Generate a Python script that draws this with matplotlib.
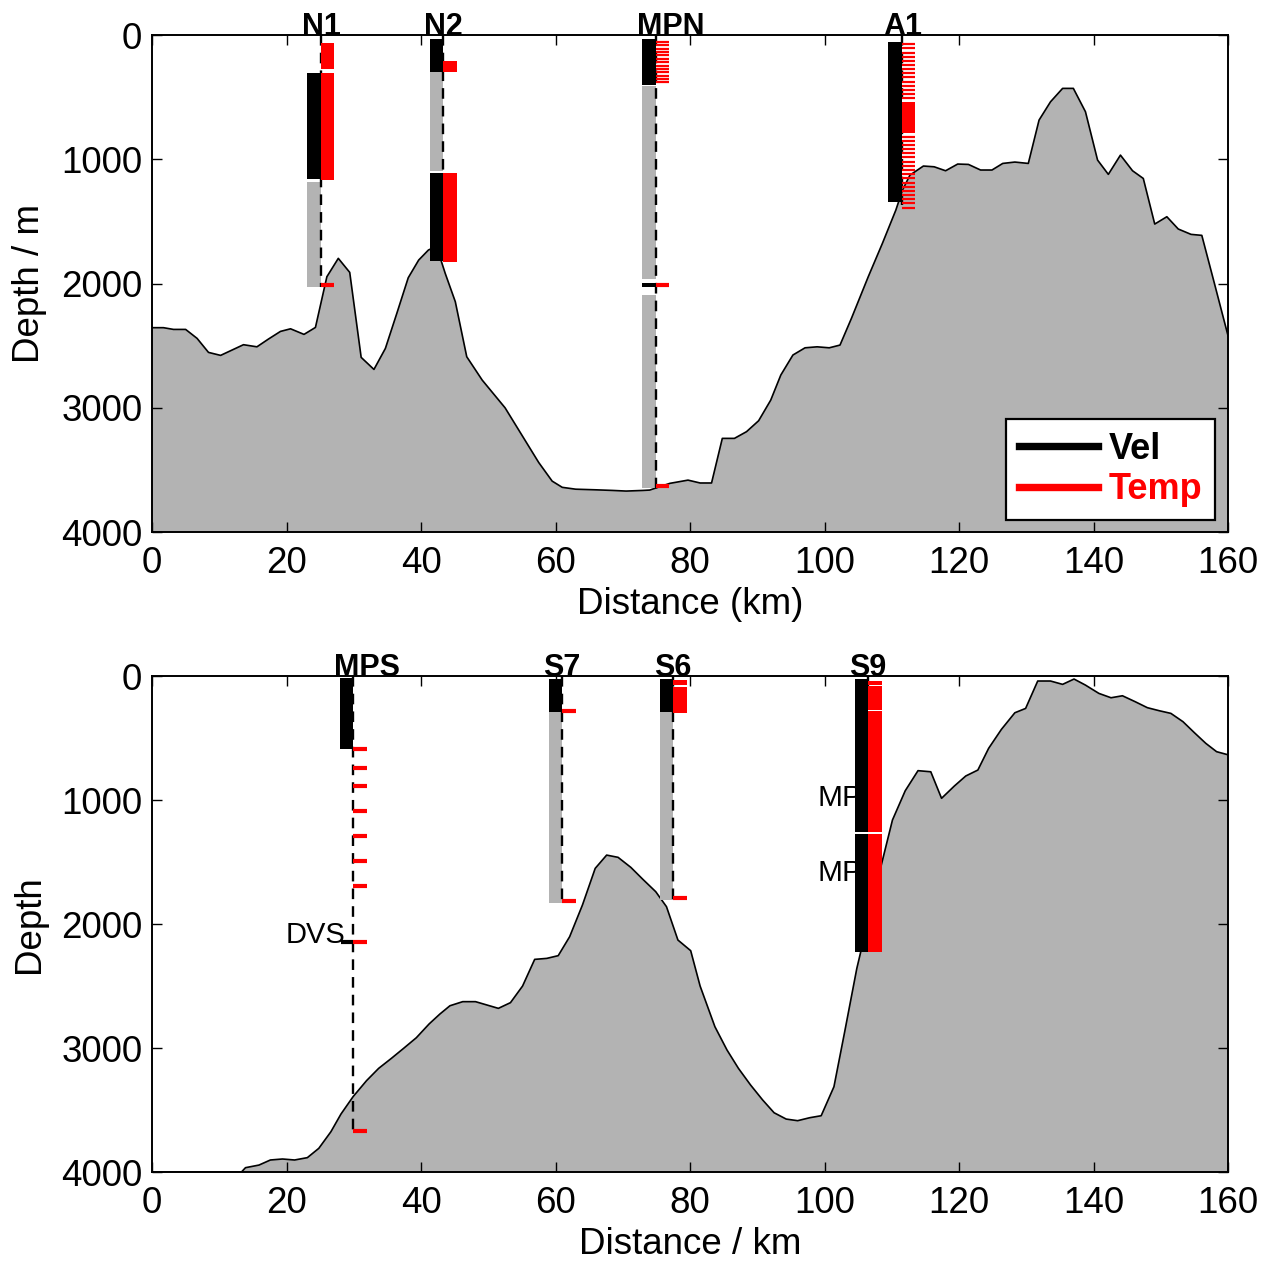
import matplotlib
matplotlib.use('Agg')
import matplotlib.pyplot as plt
from matplotlib.lines import Line2D

plt.rcParams['font.family'] = ['Liberation Sans', 'DejaVu Sans']

# ---------------- terrain profiles ----------------
top_km = [0, 1.7, 3.2, 5.0, 6.7, 8.4, 10.2, 11.9, 13.6, 15.6, 17.3, 19.1, 20.6, 22.6, 24.3,
          26.0, 27.7, 29.4, 31.1, 33.0, 34.7, 36.4, 38.1, 39.65, 41.1, 42.3, 43.6, 45.1,
          46.8, 49.1, 52.5, 55.0, 57.5, 59.5, 61.0, 63.0, 66.0, 68.5, 70.5, 73.0, 74.0,
          77.0, 79.7, 81.5, 83.2, 84.8, 86.6, 88.4, 90.2, 92.0, 93.5, 95.3, 97.1, 98.9,
          100.7, 102.3, 104.0, 106.5, 108.6, 110.6, 111.6, 112.7, 114.7, 116.3, 118.0,
          119.8, 121.4, 123.2, 124.9, 126.5, 128.3, 130.3, 131.9, 133.6, 135.4, 137.0,
          138.8, 140.6, 142.2, 144.0, 145.8, 147.4, 149.1, 150.9, 152.6, 154.5, 156.1,
          158.0, 160.0]
top_depth = [2355, 2355, 2369, 2369, 2441, 2554, 2578, 2535, 2492, 2509, 2447, 2385, 2364,
             2409, 2353, 1945, 1797, 1910, 2594, 2691, 2522, 2240, 1953, 1811, 1730, 1700,
             1918, 2146, 2589, 2777, 3000, 3220, 3440, 3590, 3640, 3655, 3660, 3665, 3670,
             3665, 3662, 3608, 3582, 3605, 3605, 3246, 3246, 3192, 3104, 2938, 2736, 2575,
             2517, 2509, 2517, 2495, 2280, 1945, 1677, 1409, 1247, 1127, 1054, 1060, 1092,
             1038, 1041, 1086, 1086, 1033, 1022, 1033, 684, 537, 429, 429, 617, 1006, 1121,
             966, 1092, 1154, 1521, 1462, 1561, 1604, 1612, 2004, 2420]

bot_km = [0, 13.3, 13.9, 15.9, 17.6, 19.4, 21.2, 23.1, 24.8, 26.6, 28.1, 29.9, 31.9, 33.7,
          35.6, 37.4, 39.3, 41.2, 42.8, 44.3, 46.2, 48.1, 49.8, 51.5, 53.3, 55.1, 56.9,
          58.7, 60.4, 62.1, 64.0, 65.9, 67.6, 69.3, 71.2, 73.0, 74.9, 76.5, 78.2, 80.1,
          81.5, 83.7, 85.5, 87.2, 89.0, 90.8, 92.5, 94.3, 96.0, 97.8, 99.5, 101.4, 103.0,
          104.8, 108.5, 110.1, 112.0, 113.9, 115.8, 117.4, 119.3, 121.0, 122.8, 124.4,
          126.3, 128.3, 129.9, 131.7, 133.6, 135.4, 137.1, 138.8, 140.8, 142.6, 144.3,
          146.2, 148.0, 149.8, 151.5, 153.3, 155.0, 156.7, 158.3, 160.0]
bot_depth = [4000, 4000, 3965, 3944, 3903, 3895, 3903, 3884, 3809, 3675, 3532, 3392, 3263,
             3164, 3083, 3003, 2917, 2806, 2726, 2659, 2626, 2626, 2653, 2680, 2634, 2500,
             2285, 2277, 2255, 2102, 1847, 1551, 1444, 1462, 1543, 1640, 1739, 1860, 2129,
             2215, 2500, 2828, 3016, 3164, 3298, 3419, 3522, 3573, 3586, 3562, 3546, 3312,
             2868, 2358, 1511, 1161, 925, 763, 772, 986, 887, 806, 758, 583, 430, 296, 261,
             40, 40, 67, 24, 73, 140, 175, 159, 207, 255, 280, 301, 368, 457, 543, 610, 635]

# ---------------- wells: top panel ----------------
top_names = ['N1', 'N2', 'MPN', 'A1']
top_well_km = [25.1, 43.3, 74.9, 111.5]
top_td = [2030, 1830, 3650, 1415]
top_vel = [[(306, 1159)], [(35, 298), (1108, 1816)], [(32, 402), (1998, 2028)], [(54, 1347)]]
top_gap = [[(1181, 2031)], [(298, 1094)], [(410, 1964), (2093, 3646)], []]
top_temp_int = [[(62, 276), (306, 1167)], [(209, 296), (1108, 1830)], [], [(536, 786)]]
top_temp_log = [[], [],
                [56, 83, 110, 137, 164, 191, 218, 245, 272, 299, 326, 353, 380],
                [72, 107, 142, 174, 207, 241, 276, 309, 340, 376, 410, 443, 475, 510,
                 818, 850, 885, 920, 952, 985, 1020, 1054, 1087, 1121, 1154, 1188, 1221,
                 1255, 1288, 1323, 1355, 1390]]
top_temp_pts = [[2015], [], [2012, 3626], []]

# ---------------- wells: bottom panel ----------------
bot_names = ['MPS', 'S7', 'S6', 'S9']
bot_well_km = [29.9, 61.0, 77.5, 106.5]
bot_td = [3680, 1830, 1810, 2222]
bot_vel = [[(18, 591)], [(27, 293)], [(27, 293)], [(24, 289), (291, 1258), (1272, 2222)]]
bot_gap = [[], [(293, 1828)], [(293, 1806)], []]
bot_temp_int = [[], [], [(32, 75), (85, 301)], [(40, 70), (80, 275), (285, 1256), (1272, 2222)]]
bot_temp_log = [[], [], [], []]
bot_temp_pts = [[586, 739, 884, 1086, 1288, 1489, 1691, 2148, 3669], [280, 1812], [1792], []]

dvs_depth = 2148
mp_label_depths = [985, 1590]

# ---------------- styling ----------------
GREY = '#b3b3b3'
RED = '#ff0000'
W = 2.0  # bar width (km)
FS = 26.5

fig = plt.figure(figsize=(12.71, 12.62), dpi=100)
ax1 = fig.add_axes([0.1196, 0.5784, 0.8466, 0.3938])
ax2 = fig.add_axes([0.1196, 0.0713, 0.8466, 0.3930])


def draw_panel(ax, km, depth, names, wkm, td, vel, gap, tint, tlog, tpts):
    ax.fill_between(km, depth, 4000, facecolor=GREY, edgecolor='none', zorder=1)
    ax.plot(km, depth, color='k', lw=1.2, zorder=1.5)
    for i, name in enumerate(names):
        x = wkm[i]
        ax.plot([x, x], [0, td[i]], color='k', lw=1.7, ls=(0, (4.5, 3)), zorder=2.5)
        for d1, d2 in gap[i]:
            ax.bar(x - W, d2 - d1, bottom=d1, width=W, align='edge', color=GREY,
                   linewidth=0, zorder=2.2)
        for d1, d2 in vel[i]:
            ax.bar(x - W, d2 - d1, bottom=d1, width=W, align='edge', color='k',
                   linewidth=0, zorder=3)
        for d1, d2 in tint[i]:
            ax.bar(x, d2 - d1, bottom=d1, width=W, align='edge', color=RED,
                   linewidth=0, zorder=3)
        if tlog[i]:
            ax.hlines(tlog[i], x, x + W, colors=RED, lw=1.6, zorder=3)
        if tpts[i]:
            ax.hlines(tpts[i], x, x + W, colors=RED, lw=3.0, zorder=3.5)
        ax.text(x - 2.8, 0, name, ha='left', va='baseline', fontsize=22,
                fontweight='bold', clip_on=False, zorder=5)
    ax.set_xlim(0, 160)
    ax.set_ylim(4000, 0)
    ax.set_xticks(range(0, 161, 20))
    ax.set_yticks([0, 1000, 2000, 3000, 4000])
    ax.tick_params(direction='in', length=7, width=1, top=True, right=True,
                   labelsize=FS)
    ax.tick_params(axis='x', pad=10)
    ax.tick_params(axis='y', pad=7)
    for s in ax.spines.values():
        s.set_linewidth(1.4)
        s.set_zorder(6)


draw_panel(ax1, top_km, top_depth, top_names, top_well_km, top_td, top_vel, top_gap,
           top_temp_int, top_temp_log, top_temp_pts)
draw_panel(ax2, bot_km, bot_depth, bot_names, bot_well_km, bot_td, bot_vel, bot_gap,
           bot_temp_int, bot_temp_log, bot_temp_pts)

# DVS marker at MPS
mps_x = bot_well_km[0]
ax2.hlines([dvs_depth], mps_x - 1.8, mps_x, colors='k', lw=3.0, zorder=3.5)
ax2.annotate('DVS', xy=(mps_x - 1.1, dvs_depth), xytext=(0, 5), textcoords='offset points',
             ha='right', va='center', fontsize=21, zorder=5)

# labels partly hidden behind the S9 bars
for d in mp_label_depths:
    ax2.text(99.0, d, 'MP', ha='left', va='center', fontsize=21.5, zorder=2.1)

# legend
handles = [Line2D([], [], color='k', lw=5.3), Line2D([], [], color=RED, lw=5.3)]
leg = ax1.legend(handles, ['Vel', 'Temp'], loc='lower right', bbox_to_anchor=(0.988, 0.024),
                 borderaxespad=0, prop={'weight': 'bold', 'size': 26}, handlelength=2.2,
                 handletextpad=0.3, labelspacing=0.15, borderpad=0.35, fancybox=False,
                 framealpha=1, edgecolor='k')
leg.get_frame().set_linewidth(1.6)
leg.set_zorder(7)
leg.get_texts()[1].set_color(RED)

ax1.set_xlabel('Distance (km)', fontsize=FS)
ax1.set_ylabel('Depth / m', fontsize=FS)
ax2.set_xlabel('Distance / km', fontsize=FS)
ax2.set_ylabel('Depth', fontsize=FS)
for ax in (ax1, ax2):
    ax.xaxis.set_label_coords(0.5, -0.11)
    ax.yaxis.set_label_coords(-0.098, 0.5)

fig.savefig('out.png', dpi=100)
